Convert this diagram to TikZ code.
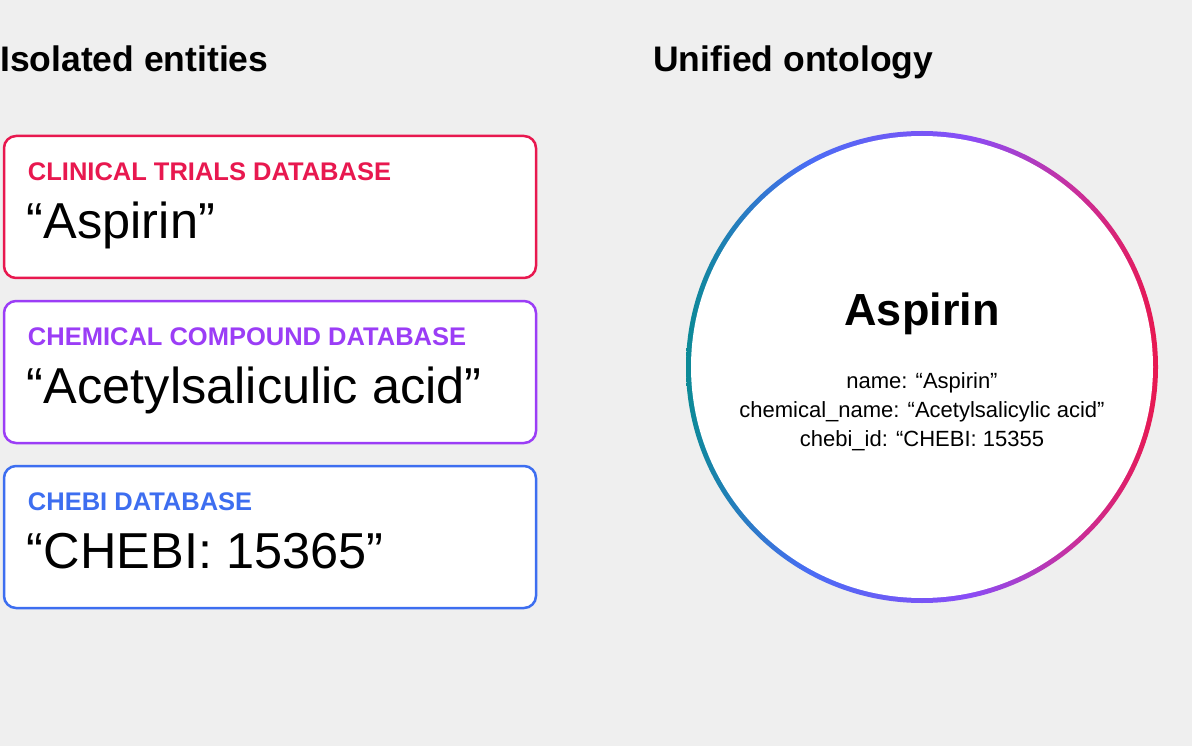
\documentclass[tikz,border=0pt]{standalone}
\usepackage{fontspec}
\setmainfont{Liberation Sans}
\usetikzlibrary{positioning}

\definecolor{pagegray}{HTML}{EFEFEF}
\definecolor{trialred}{HTML}{E8184F}
\definecolor{compoundpurple}{HTML}{9B3DF6}
\definecolor{chebiblue}{HTML}{3D6EF0}
\definecolor{ringteal}{HTML}{0B8A96}
\definecolor{ringblue}{HTML}{4A6CF5}
\definecolor{ringviolet}{HTML}{8A4CF6}
\definecolor{ringmagenta}{HTML}{C8309E}

\pgfdeclarehorizontalshading{ringshade}{100bp}{color(0bp)=(ringteal); color(25bp)=(ringteal); color(38bp)=(ringblue); color(55bp)=(ringviolet); color(66bp)=(ringmagenta); color(75bp)=(trialred); color(100bp)=(trialred)}

\tikzset{
  heading/.style={font=\bfseries\fontsize{35.5}{40}\selectfont, anchor=base west, inner sep=0pt},
  dbbox/.style={draw, fill=white, line width=2.5pt, rounded corners=12pt, minimum width=532pt, minimum height=142pt, inner sep=0pt},
  dblabel/.style={font=\bfseries\fontsize{25.5}{28}\selectfont, anchor=base west, inner sep=0pt},
  dbvalue/.style={font=\fontsize{50.5}{58}\selectfont, anchor=base west, inner sep=0pt},
  attr/.style={font=\fontsize{22}{29}\selectfont, anchor=base, inner sep=0pt},
}

\begin{document}
\begin{tikzpicture}[x=1pt, y=-1pt]
\fill[pagegray] (0,0) rectangle (1192,746);

\node[heading] (isolated) at (0,72) {Isolated entities};
\node[heading] (unified) at (653,72) {Unified ontology};

% source databases
\node[dbbox, draw=trialred] (trials) at (270,207) {};
\node[dbbox, draw=compoundpurple, below=20.5pt of trials] (compound) {};
\node[dbbox, draw=chebiblue, below=20.5pt of compound] (chebi) {};

\foreach \db/\col/\lbl/\val in {trials/trialred/CLINICAL TRIALS DATABASE/“Aspirin”,
  compound/compoundpurple/CHEMICAL COMPOUND DATABASE/“Acetylsaliculic acid”,
  chebi/chebiblue/CHEBI DATABASE/“CHEBI: 15365”}{
\node[dblabel, text=\col] (\db label) at ([shift={(25,46)}]\db.north west) {\lbl};
\node[dbvalue] (\db value) at ([shift={(24,104)}]\db.north west) {\val};
}

% unified entity
\coordinate (ctr) at (922,367);
\shade[shading=ringshade] (ctr) circle (236pt);
\fill[white] (ctr) circle (231pt);
\node[font=\bfseries\fontsize{45}{52}\selectfont, anchor=base, inner sep=0pt] (entity) at (922,325) {Aspirin};
\node[attr] (attrname) at (922,388) {name: “Aspirin”};
\node[attr] (attrchem) at (922,417) {chemical\_name: “Acetylsalicylic acid”};
\node[attr] (attrchebi) at (922,446) {chebi\_id: “CHEBI: 15355};
\end{tikzpicture}
\end{document}
